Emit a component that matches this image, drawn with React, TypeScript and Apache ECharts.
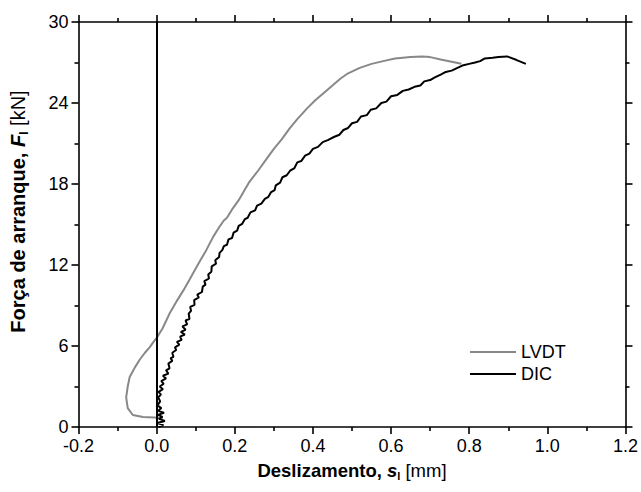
import React, { useEffect, useRef } from "react";
import * as echarts from "echarts";

const xTicks = [-0.2, 0.0, 0.2, 0.4, 0.6, 0.8, 1.0, 1.2];
const yTicks = [0, 6, 12, 18, 24, 30];

const lvdt: [number, number][] = [
  [0.015, 0.6], [-0.005, 0.7], [-0.035, 0.74], [-0.061, 0.89], [-0.074, 1.4],
  [-0.078, 2.2], [-0.074, 3.0], [-0.069, 3.7], [-0.056, 4.4], [-0.043, 5.0],
  [-0.03, 5.5], [-0.018, 5.9], [-0.008, 6.3], [0.0, 6.6], [0.015, 7.3],
  [0.033, 8.4], [0.053, 9.4], [0.068, 10.1], [0.084, 10.9], [0.105, 12.0],
  [0.127, 13.1], [0.145, 14.1], [0.16, 14.8], [0.172, 15.3], [0.18, 15.5],
  [0.195, 16.2], [0.21, 16.8], [0.236, 18.1], [0.26, 19.0], [0.28, 19.8],
  [0.3, 20.6], [0.32, 21.3], [0.34, 22.1], [0.36, 22.8], [0.385, 23.6],
  [0.406, 24.2], [0.43, 24.8], [0.45, 25.3], [0.47, 25.8], [0.49, 26.2],
  [0.52, 26.6], [0.55, 26.9], [0.58, 27.1], [0.61, 27.3], [0.65, 27.4],
  [0.68, 27.45], [0.7, 27.4], [0.73, 27.2], [0.78, 26.9]
];

const dic: [number, number][] = [
  [0.005, 0.0], [0.017, 0.15], [0.002, 0.3], [0.021, 0.45], [0.006, 0.6], [0.015, 0.75],
  [0.003, 0.9], [0.019, 1.05], [0.004, 1.2], [0.012, 1.4], [0.002, 1.6], [0.009, 1.9],
  [0.004, 2.2], [0.011, 2.4], [0.005, 2.6], [0.016, 2.8], [0.008, 3.0], [0.018, 3.2],
  [0.012, 3.4], [0.024, 3.6], [0.016, 3.8], [0.03, 3.95], [0.024, 4.2], [0.033, 4.35],
  [0.03, 4.7], [0.04, 4.9], [0.036, 5.1], [0.043, 5.2], [0.04, 5.5], [0.05, 5.7],
  [0.047, 5.9], [0.058, 6.1], [0.052, 6.3], [0.064, 6.45], [0.06, 6.7], [0.072, 6.85],
  [0.062, 7.05], [0.074, 7.2], [0.066, 7.45], [0.078, 7.6], [0.074, 7.9], [0.084, 8.0],
  [0.082, 8.4], [0.088, 8.6], [0.086, 8.9], [0.097, 9.05], [0.096, 9.4], [0.108, 9.6],
  [0.104, 9.8], [0.116, 10.0], [0.118, 10.4], [0.125, 10.55], [0.122, 10.8], [0.134, 11.0],
  [0.132, 11.3], [0.14, 11.5], [0.141, 11.9], [0.152, 12.1], [0.15, 12.35], [0.16, 12.6],
  [0.161, 12.9], [0.168, 13.1], [0.172, 13.4], [0.18, 13.5], [0.184, 13.9], [0.193, 14.0],
  [0.197, 14.4], [0.206, 14.55], [0.21, 14.9], [0.219, 15.05], [0.226, 15.4], [0.233, 15.5],
  [0.24, 15.9], [0.252, 16.05], [0.257, 16.4], [0.268, 16.55], [0.277, 16.9], [0.286, 17.05],
  [0.293, 17.4], [0.302, 17.55], [0.305, 17.9], [0.316, 18.1], [0.322, 18.5], [0.333, 18.65],
  [0.342, 19.0], [0.352, 19.15], [0.36, 19.6], [0.37, 19.7], [0.38, 20.1], [0.391, 20.25],
  [0.4, 20.6], [0.413, 20.75], [0.425, 21.1], [0.438, 21.25], [0.455, 21.5], [0.468, 21.65],
  [0.478, 22.0], [0.49, 22.15], [0.5, 22.5], [0.513, 22.6], [0.523, 23.0], [0.538, 23.1],
  [0.548, 23.5], [0.562, 23.6], [0.575, 24.0], [0.588, 24.1], [0.6, 24.5], [0.616, 24.6],
  [0.63, 24.9], [0.645, 25.0], [0.66, 25.2], [0.675, 25.3], [0.685, 25.6], [0.7, 25.7],
  [0.712, 25.9], [0.727, 26.1], [0.74, 26.3], [0.755, 26.4], [0.77, 26.6], [0.785, 26.8],
  [0.8, 26.9], [0.815, 27.0], [0.828, 27.1], [0.84, 27.3], [0.86, 27.35], [0.875, 27.4],
  [0.897, 27.45], [0.92, 27.2], [0.945, 26.9]
];

const FONT = "Liberation Sans";

function ticks() {
  return { show: true, inside: false, length: 7, lineStyle: { color: "#000", width: 1.6 } };
}
function minor() {
  return { show: true, splitNumber: 2, length: 4, lineStyle: { color: "#000", width: 1.6 } };
}
function line() {
  return { show: true, onZero: false, lineStyle: { color: "#000", width: 1.6 } };
}
function nameRich(size: number) {
  return {
    b: { fontSize: size, fontWeight: "bold", fontFamily: FONT, color: "#000" },
    bi: { fontSize: size, fontWeight: "bold", fontStyle: "italic", fontFamily: FONT, color: "#000" },
    sub: { fontSize: Math.round(size * 0.6), fontWeight: "bold", fontFamily: FONT, color: "#000", padding: [Math.round(size * 0.55), 0, 0, 0] },
    n: { fontSize: size, fontFamily: FONT, color: "#000" }
  };
}

export default function App() {
  const ref = useRef<HTMLDivElement>(null);
  useEffect(() => {
    if (!ref.current) return;
    const chart = echarts.init(ref.current, null, { renderer: "svg" });
    chart.setOption({
      animation: false,
      backgroundColor: "#fff",
      grid: { left: 78, right: 12, top: 22, bottom: 65, containLabel: false },
      xAxis: [
        {
          type: "value", min: xTicks[0], max: xTicks[xTicks.length - 1], interval: 0.2,
          position: "bottom", axisLine: line(), axisTick: ticks(), minorTick: minor(), splitLine: { show: false },
          axisLabel: { show: true, color: "#000", fontSize: 18, fontFamily: FONT, margin: 10, formatter: (v: number) => v.toFixed(1) },
          name: "{b|Deslizamento, }{bi|s}{sub|l}{n| [mm]}",
          nameLocation: "middle", nameGap: 33,
          nameTextStyle: { fontFamily: FONT, rich: nameRich(18.5) }
        },
        {
          type: "value", min: xTicks[0], max: xTicks[xTicks.length - 1], interval: 0.2,
          position: "top", axisLine: line(), axisTick: ticks(), minorTick: minor(), splitLine: { show: false },
          axisLabel: { show: false }
        }
      ],
      yAxis: [
        {
          type: "value", min: yTicks[0], max: yTicks[yTicks.length - 1], interval: 6,
          position: "left", axisLine: line(), axisTick: ticks(), minorTick: minor(), splitLine: { show: false },
          axisLabel: { show: true, color: "#000", fontSize: 18, fontFamily: FONT, margin: 10 },
          name: "{b|Força de arranque, }{bi|F}{sub|l}{n| [kN]}",
          nameLocation: "middle", nameGap: 49,
          nameTextStyle: { fontFamily: FONT, rich: nameRich(20), padding: [0, 0, 0, 26] }
        },
        {
          type: "value", min: yTicks[0], max: yTicks[yTicks.length - 1], interval: 6,
          position: "right", axisLine: line(), axisTick: ticks(), minorTick: minor(), splitLine: { show: false },
          axisLabel: { show: false }
        }
      ],
      legend: {
        orient: "vertical", left: 465, top: 338, itemWidth: 46, itemHeight: 2, itemGap: 4,
        textStyle: { fontSize: 18, fontFamily: FONT, color: "#000" },
        data: [
          { name: "LVDT", icon: "rect", itemStyle: { color: "#888888" } },
          { name: "DIC", icon: "rect", itemStyle: { color: "#000" } }
        ]
      },
      series: [
        {
          name: "LVDT", type: "line", data: lvdt, symbol: "none", showSymbol: false,
          lineStyle: { color: "#888888", width: 2 }, itemStyle: { color: "#888888" }
        },
        {
          name: "DIC", type: "line", data: dic, symbol: "none", showSymbol: false,
          lineStyle: { color: "#000", width: 2 }, itemStyle: { color: "#000" },
          markLine: {
            silent: true, symbol: "none", label: { show: false },
            lineStyle: { color: "#000", width: 2, type: "solid" },
            data: [{ xAxis: 0 }]
          }
        }
      ]
    });
    return () => chart.dispose();
  }, []);
  return <div ref={ref} style={{ width: 641, height: 492, position: "absolute", left: 0, top: 0 }} />;
}
